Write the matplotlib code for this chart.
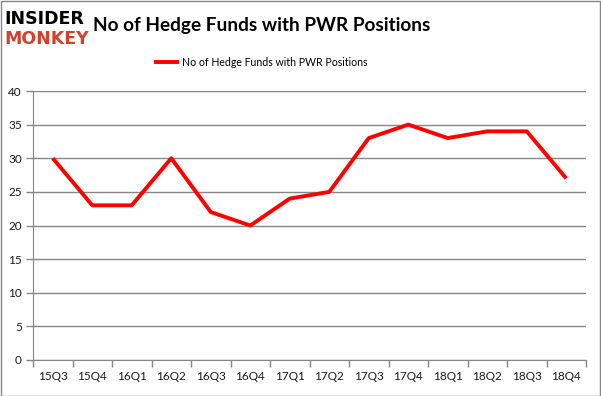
import numpy as np
import matplotlib.pyplot as plt
from matplotlib.patches import Rectangle

quarters = ['15Q3', '15Q4', '16Q1', '16Q2', '16Q3', '16Q4', '17Q1',
            '17Q2', '17Q3', '17Q4', '18Q1', '18Q2', '18Q3', '18Q4']
funds = [30, 23, 23, 30, 22, 20, 24, 25, 33, 35, 33, 34, 34, 27]
yticks = [0, 5, 10, 15, 20, 25, 30, 35, 40]

grey = '#868686'
narrow = ['Lato', 'DejaVu Sans']

fig = plt.figure(figsize=(6.01, 3.96), dpi=100)
ax = fig.add_axes([33 / 601, 1 - 360 / 396, 553 / 601, 269 / 396])

x = np.arange(len(quarters))
ax.plot(x, funds, color='#ff0000', lw=2.8, solid_capstyle='butt',
        label='No of Hedge Funds with PWR Positions')

ax.set_xlim(-0.5, len(quarters) - 0.5)
ax.set_ylim(0, 40)
ax.set_yticks(yticks)
ax.set_xticks(x)
ax.set_xticklabels(quarters, family=narrow)
ax.set_yticklabels([str(v) for v in yticks], family=narrow)
ax.set_xticks(np.arange(-0.5, len(quarters)), minor=True)
ax.tick_params(axis='x', which='major', length=0, pad=8,
               labelsize=8.5, labelcolor='#1a1a1a')
ax.tick_params(axis='x', which='minor', length=5, color=grey, width=1)
ax.tick_params(axis='y', length=5, color=grey, width=1, pad=3,
               labelsize=8.5, labelcolor='#1a1a1a')
ax.yaxis.grid(True, color=grey, lw=1)
ax.set_axisbelow(True)
for side in ['top', 'right']:
    ax.spines[side].set_visible(False)
for side in ['left', 'bottom']:
    ax.spines[side].set_color(grey)

fig.legend(loc='center', bbox_to_anchor=(261 / 601, 1 - 62 / 396),
           frameon=False, prop={'family': narrow, 'size': 7.6},
           handlelength=2.4, handletextpad=0.3)

fig.text(93 / 601, 1 - 26 / 396, 'No of Hedge Funds with PWR Positions',
         fontsize=13.7, fontweight='bold', va='center', ha='left',
         family=narrow)

# logo
fig.text(4 / 601, 1 - 19 / 396, 'INSIDER', fontsize=12.5, fontweight='heavy',
         color='black', va='center', ha='left', family='DejaVu Sans')
fig.text(4 / 601, 1 - 39 / 396, 'MONKEY', fontsize=12.5, fontweight='heavy',
         color='#d4402c', va='center', ha='left', family='DejaVu Sans')

fig.patches.append(Rectangle((0.5 / 601, 0.5 / 396), 599 / 601, 395 / 396,
                             transform=fig.transFigure, fill=False,
                             edgecolor=grey, lw=1))

fig.savefig('out.png', dpi=100)
